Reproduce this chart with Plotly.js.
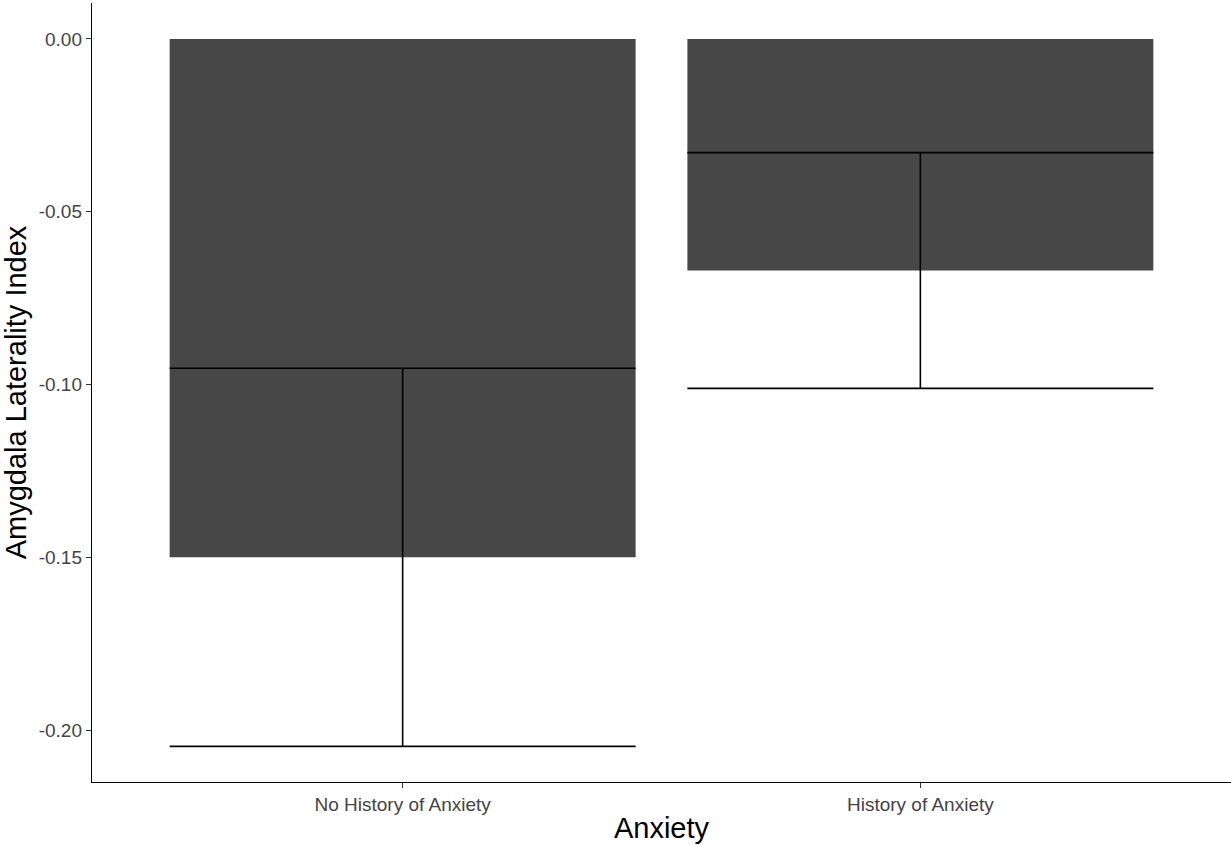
<!DOCTYPE html>
<html>
<head>
<meta charset="utf-8">
<script src="https://cdn.plot.ly/plotly-3.0.1.min.js"></script>
<style>
html, body { margin: 0; padding: 0; background: #ffffff; }
#chart { width: 1231px; height: 845px; }
</style>
</head>
<body>
<div id="chart"></div>
<script>
// Data
const categories = ["No History of Anxiety", "History of Anxiety"];
const meanValues = [-0.150, -0.067];
const errorValues = [0.0547, 0.0341];
const yTickVals = [0, -0.05, -0.10, -0.15, -0.20];
const yTickText = ["0.00", "-0.05", "-0.10", "-0.15", "-0.20"];

const FONT = "Liberation Sans, Arial, Helvetica, sans-serif";

const trace = {
  type: "bar",
  x: categories,
  y: meanValues,
  marker: { color: "#474747", line: { width: 0 } },
  error_y: {
    type: "data",
    array: errorValues,
    visible: true,
    color: "#000000",
    thickness: 1.6,
    width: 233
  },
  hoverinfo: "x+y"
};

const layout = {
  width: 1231,
  height: 845,
  margin: { l: 92, r: 0, t: 3, b: 63 },
  paper_bgcolor: "#ffffff",
  plot_bgcolor: "#ffffff",
  bargap: 0.1,
  showlegend: false,
  font: { family: FONT, color: "#000000" },
  xaxis: {
    type: "category",
    range: [-0.6, 1.6],
    showline: true,
    linecolor: "#000000",
    linewidth: 1.4,
    ticks: "outside",
    ticklen: 5,
    tickwidth: 1.2,
    tickcolor: "#333333",
    showgrid: false,
    zeroline: false,
    tickfont: { family: FONT, size: 19, color: "#444444" },
    title: { text: "Anxiety", font: { family: FONT, size: 29, color: "#000000" }, standoff: 3 }
  },
  yaxis: {
    range: [-0.2150, 0.0104],
    tickvals: yTickVals,
    ticktext: yTickText,
    showline: true,
    linecolor: "#000000",
    linewidth: 1.4,
    ticks: "outside",
    ticklen: 5,
    tickwidth: 1.2,
    tickcolor: "#333333",
    showgrid: false,
    zeroline: false,
    tickfont: { family: FONT, size: 19, color: "#444444" },
    title: { text: "Amygdala Laterality Index", font: { family: FONT, size: 29, color: "#000000" }, standoff: 3 }
  }
};

Plotly.newPlot("chart", [trace], layout, { displayModeBar: false, staticPlot: false });
</script>
</body>
</html>
